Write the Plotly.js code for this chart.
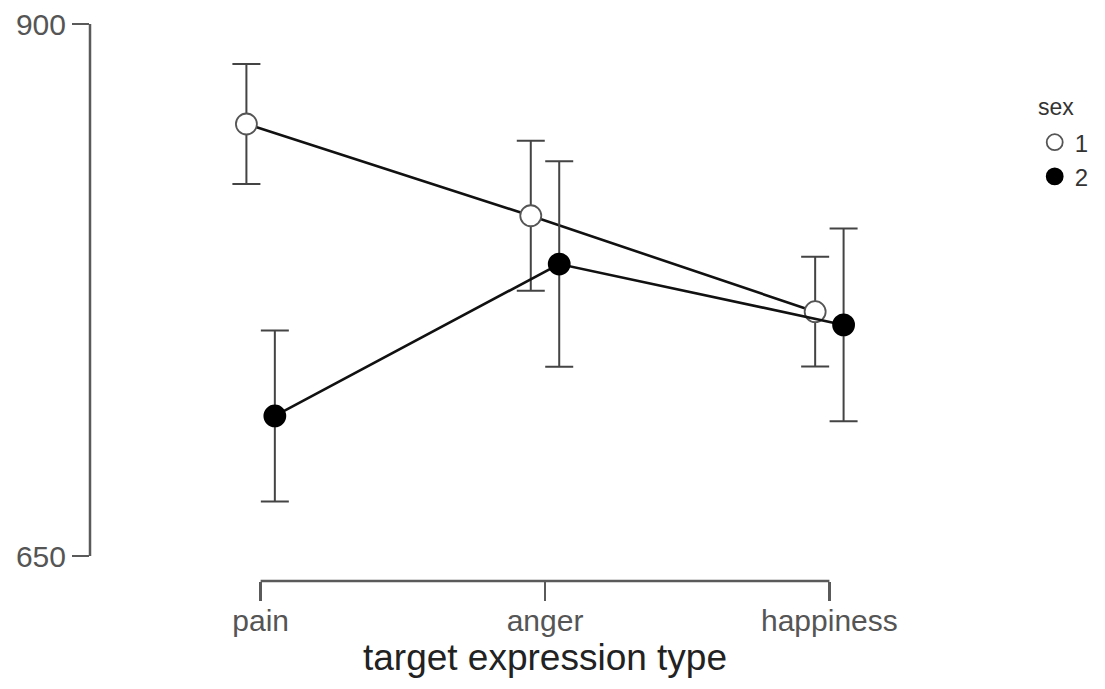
<!DOCTYPE html>
<html>
<head>
<meta charset="utf-8">
<script src="https://cdn.plot.ly/plotly-3.0.1.min.js"></script>
<style>html,body{margin:0;padding:0;background:#fff;}#chart{width:1105px;height:689px;}</style>
</head>
<body>
<div id="chart"></div>
<script>
// ---- data ----
var categories = ['pain', 'anger', 'happiness'];
var sex1Mean = [853.0, 809.9, 764.8];
var sex1Err  = [28.2, 35.2, 25.8];
var sex2Mean = [715.8, 787.2, 758.6];
var sex2Err  = [40.2, 48.3, 45.3];
var yTicks = [650, 900];
var seriesNames = ['1', '2'];
var legendTitle = 'sex';

// ---- chart ----
var dodge = 0.05;
var idx = categories.map(function (c, i) { return i; });
var font = 'Liberation Sans, Arial, Helvetica, sans-serif';
var fills = ['#ffffff', '#000000'];
var outlines = ['#555', '#000'];

function trace(k, means, errs, shift) {
  return {
    type: 'scatter', mode: 'lines+markers', name: seriesNames[k], showlegend: false,
    x: idx.map(function (i) { return i + shift; }),
    y: means,
    line: {color: '#111', width: 2.6},
    marker: {size: 21, color: fills[k], line: {color: outlines[k], width: 1.8}},
    error_y: {type: 'data', array: errs, visible: true, color: '#444', thickness: 2, width: 14},
    cliponaxis: false
  };
}
function legendEntry(k) {
  return {
    type: 'scatter', mode: 'markers', name: seriesNames[k], showlegend: true,
    x: [null], y: [null],
    marker: {size: 19, color: fills[k], line: {color: outlines[k], width: 1.8}}
  };
}

var data = [
  trace(0, sex1Mean, sex1Err, -dodge),
  trace(1, sex2Mean, sex2Err, dodge),
  legendEntry(0), legendEntry(1)
];

var layout = {
  width: 1105, height: 689,
  margin: {l: 90, r: 104, t: 24, b: 108},
  paper_bgcolor: '#fff', plot_bgcolor: '#fff',
  font: {family: font, color: '#555'},
  showlegend: true,
  legend: {
    x: 1.037, y: 0.8275, xanchor: 'left', yanchor: 'top',
    font: {size: 24, color: '#333', family: font},
    itemwidth: 30, tracegroupgap: 0, bgcolor: 'rgba(0,0,0,0)'
  },
  annotations: [
    {text: legendTitle, xref: 'paper', yref: 'paper', x: 1.0395, y: 0.851,
     xanchor: 'left', yanchor: 'middle', showarrow: false,
     font: {size: 23, color: '#333', family: font}}
  ],
  xaxis: {
    range: [-0.6, 2.6], tickmode: 'array', tickvals: idx, ticktext: categories,
    showline: false, showgrid: false, zeroline: false,
    ticks: 'outside', ticklen: 19, tickwidth: 2.5, tickcolor: '#5a5a5a',
    ticklabelstandoff: -6,
    tickfont: {size: 30, color: '#555', family: font},
    title: {text: 'target expression type', font: {size: 37, color: '#222', family: font}, standoff: 6}
  },
  yaxis: {
    range: [638.25, 900], tickmode: 'array', tickvals: yTicks,
    showline: false, showgrid: false, zeroline: false,
    ticks: 'outside', ticklen: 17, tickwidth: 2.5, tickcolor: '#5a5a5a',
    tickfont: {size: 30, color: '#555', family: font}
  },
  shapes: [
    {type: 'line', xref: 'paper', yref: 'y', x0: 0, x1: 0, y0: yTicks[0], y1: yTicks[yTicks.length - 1],
     line: {color: '#5a5a5a', width: 2.5}},
    {type: 'line', xref: 'x', yref: 'paper', x0: idx[0], x1: idx[idx.length - 1], y0: 0, y1: 0,
     line: {color: '#5a5a5a', width: 2.5}}
  ]
};

Plotly.newPlot('chart', data, layout, {displayModeBar: false, staticPlot: true});
</script>
</body>
</html>
